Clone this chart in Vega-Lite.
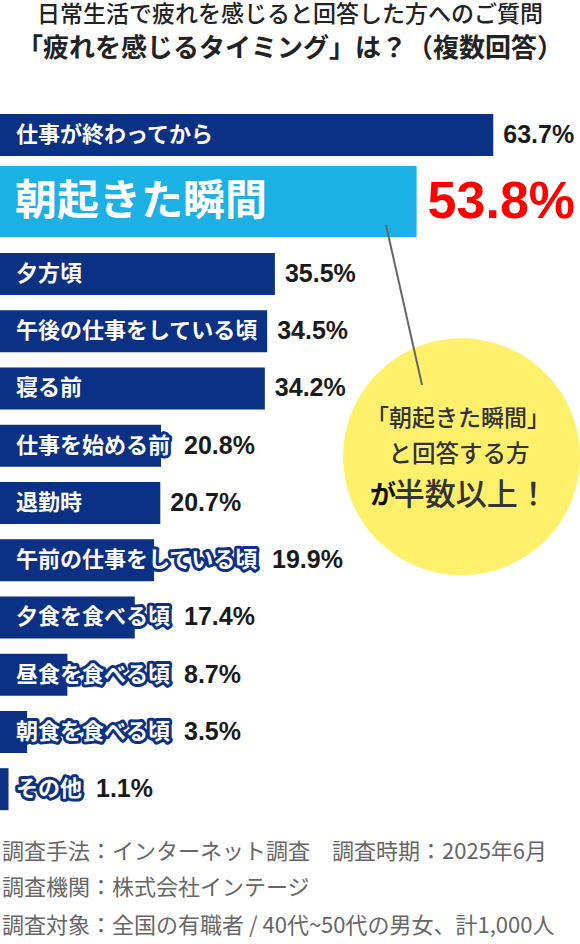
{
  "$schema": "https://vega.github.io/schema/vega-lite/v6.json",
  "width": 580,
  "height": 874,
  "autosize": {"type": "none"},
  "padding": {"top": 70, "left": 0, "right": 0, "bottom": 0},
  "background": "white",
  "config": {"view": {"stroke": null}, "text": {"font": "Noto Sans CJK JP"}},
  "title": {
    "text": "日常生活で疲れを感じると回答した方へのご質問",
    "subtitle": "「疲れを感じるタイミング」は？（複数回答）",
    "anchor": "middle",
    "frame": "group",
    "offset": 8,
    "font": "Noto Sans CJK JP",
    "fontSize": 23,
    "fontWeight": 500,
    "color": "#222222",
    "subtitleFont": "Noto Sans CJK JP",
    "subtitleFontSize": 26,
    "subtitleFontWeight": "bold",
    "subtitleColor": "#222222",
    "subtitlePadding": 9.5
  },
  "data": {
    "values": [
      {"rank": 1, "label": "仕事が終わってから", "share": 0.637},
      {"rank": 2, "label": "朝起きた瞬間", "share": 0.538},
      {"rank": 3, "label": "夕方頃", "share": 0.355},
      {"rank": 4, "label": "午後の仕事をしている頃", "share": 0.345},
      {"rank": 5, "label": "寝る前", "share": 0.342},
      {"rank": 6, "label": "仕事を始める前", "share": 0.208},
      {"rank": 7, "label": "退勤時", "share": 0.207},
      {"rank": 8, "label": "午前の仕事をしている頃", "share": 0.199},
      {"rank": 9, "label": "夕食を食べる頃", "share": 0.174},
      {"rank": 10, "label": "昼食を食べる頃", "share": 0.087},
      {"rank": 11, "label": "朝食を食べる頃", "share": 0.035},
      {"rank": 12, "label": "その他", "share": 0.011}
    ]
  },
  "layer": [
    {
      "mark": {"type": "bar", "orient": "horizontal"},
      "encoding": {
        "y": {
          "field": "rank",
          "type": "quantitative",
          "scale": {"domain": [1, 2, 3, 12], "range": [59.5, 131.5, 204, 724], "zero": false, "nice": false},
          "axis": null
        },
        "x": {
          "field": "share",
          "type": "quantitative",
          "scale": {"domain": [0, 0.749], "nice": false, "zero": true},
          "axis": null
        },
        "x2": {"datum": 0},
        "size": {"condition": {"test": "datum.rank === 2", "value": 71}, "value": 42},
        "color": {"condition": {"test": "datum.rank === 2", "value": "#1cb1e5"}, "value": "#0a3183"}
      }
    },
    {
      "data": {"values": [{}]},
      "mark": {"type": "point", "shape": "circle", "filled": true, "size": 56169, "color": "#fff06c", "opacity": 1, "strokeWidth": 0},
      "encoding": {
        "x": {"datum": 0.596, "type": "quantitative"},
        "y": {"datum": 6.193, "type": "quantitative"}
      }
    },
    {
      "data": {"values": [{}]},
      "mark": {"type": "rule", "color": "#666666", "strokeWidth": 2},
      "encoding": {
        "x": {"datum": 0.4985, "type": "quantitative"},
        "y": {"datum": 2.324, "type": "quantitative"},
        "x2": {"datum": 0.545},
        "y2": {"datum": 4.938}
      }
    },
    {
      "transform": [{"filter": "datum.rank !== 2"}],
      "mark": {"type": "text", "align": "left", "baseline": "middle", "dx": 16, "fontSize": 22, "fontWeight": "bold", "fill": "#0a3183", "stroke": "#0a3183", "strokeWidth": 6, "strokeJoin": "round"},
      "encoding": {
        "x": {"datum": 0, "type": "quantitative"},
        "y": {"field": "rank", "type": "quantitative"},
        "text": {"field": "label"}
      }
    },
    {
      "transform": [{"filter": "datum.rank !== 2"}],
      "mark": {"type": "text", "align": "left", "baseline": "middle", "dx": 16, "fontSize": 22, "fontWeight": "bold", "fill": "white"},
      "encoding": {
        "x": {"datum": 0, "type": "quantitative"},
        "y": {"field": "rank", "type": "quantitative"},
        "text": {"field": "label"}
      }
    },
    {
      "transform": [{"filter": "datum.rank === 2"}],
      "mark": {"type": "text", "align": "left", "baseline": "middle", "dx": 15, "fontSize": 42, "fontWeight": "bold", "fill": "white"},
      "encoding": {
        "x": {"datum": 0, "type": "quantitative"},
        "y": {"field": "rank", "type": "quantitative"},
        "text": {"field": "label"}
      }
    },
    {
      "transform": [{"filter": "datum.rank !== 2"}],
      "mark": {
        "type": "text", "align": "left", "baseline": "middle",
        "font": "Liberation Sans", "fontSize": 25, "fontWeight": "bold", "fill": "#1a1a1a",
        "dx": {"expr": "max(10, 30 + 22 * length(datum.label) - scale('x', datum.share))"}
      },
      "encoding": {
        "x": {"field": "share", "type": "quantitative"},
        "y": {"field": "rank", "type": "quantitative"},
        "text": {"field": "share", "type": "quantitative", "format": ".1%"}
      }
    },
    {
      "transform": [{"filter": "datum.rank === 2"}],
      "mark": {"type": "text", "align": "left", "baseline": "middle", "dx": 11, "font": "Liberation Sans", "fontSize": 52, "fontWeight": "bold", "fill": "#fe0000"},
      "encoding": {
        "x": {"field": "share", "type": "quantitative"},
        "y": {"field": "rank", "type": "quantitative"},
        "text": {"field": "share", "type": "quantitative", "format": ".1%"}
      }
    },
    {
      "data": {"values": [{}]},
      "mark": {"type": "text", "text": "「朝起きた瞬間」", "align": "center", "baseline": "middle", "fontSize": 23, "fontWeight": 500, "fill": "#333333"},
      "encoding": {
        "x": {"datum": 0.5914, "type": "quantitative"},
        "y": {"datum": 5.527, "type": "quantitative"}
      }
    },
    {
      "data": {"values": [{}]},
      "mark": {"type": "text", "text": "と回答する方", "align": "center", "baseline": "middle", "fontSize": 23.5, "fontWeight": 500, "fill": "#333333"},
      "encoding": {
        "x": {"datum": 0.5927, "type": "quantitative"},
        "y": {"datum": 6.167, "type": "quantitative"}
      }
    },
    {
      "data": {"values": [{}]},
      "mark": {"type": "text", "text": "が", "align": "center", "baseline": "middle", "fontSize": 26, "fontWeight": "bold", "fill": "#111111"},
      "encoding": {
        "x": {"datum": 0.4945, "type": "quantitative"},
        "y": {"datum": 6.877, "type": "quantitative"}
      }
    },
    {
      "data": {"values": [{}]},
      "mark": {"type": "text", "text": "半数以上！", "align": "center", "baseline": "middle", "fontSize": 31, "fontWeight": 500, "fill": "#333333"},
      "encoding": {
        "x": {"datum": 0.6085, "type": "quantitative"},
        "y": {"datum": 6.877, "type": "quantitative"}
      }
    },
    {
      "data": {"values": [{}]},
      "mark": {"type": "text", "text": "調査手法：インターネット調査　調査時期：2025年6月", "align": "left", "baseline": "middle", "dx": 2, "fontSize": 22, "fill": "#666666"},
      "encoding": {
        "x": {"datum": 0, "type": "quantitative"},
        "y": {"datum": 13.09, "type": "quantitative"}
      }
    },
    {
      "data": {"values": [{}]},
      "mark": {"type": "text", "text": "調査機関：株式会社インテージ", "align": "left", "baseline": "middle", "dx": 2, "fontSize": 22, "fill": "#666666"},
      "encoding": {
        "x": {"datum": 0, "type": "quantitative"},
        "y": {"datum": 13.73, "type": "quantitative"}
      }
    },
    {
      "data": {"values": [{}]},
      "mark": {"type": "text", "text": "調査対象：全国の有職者 / 40代~50代の男女、計1,000人", "align": "left", "baseline": "middle", "dx": 2, "fontSize": 22, "fill": "#666666"},
      "encoding": {
        "x": {"datum": 0, "type": "quantitative"},
        "y": {"datum": 14.39, "type": "quantitative"}
      }
    }
  ]
}
